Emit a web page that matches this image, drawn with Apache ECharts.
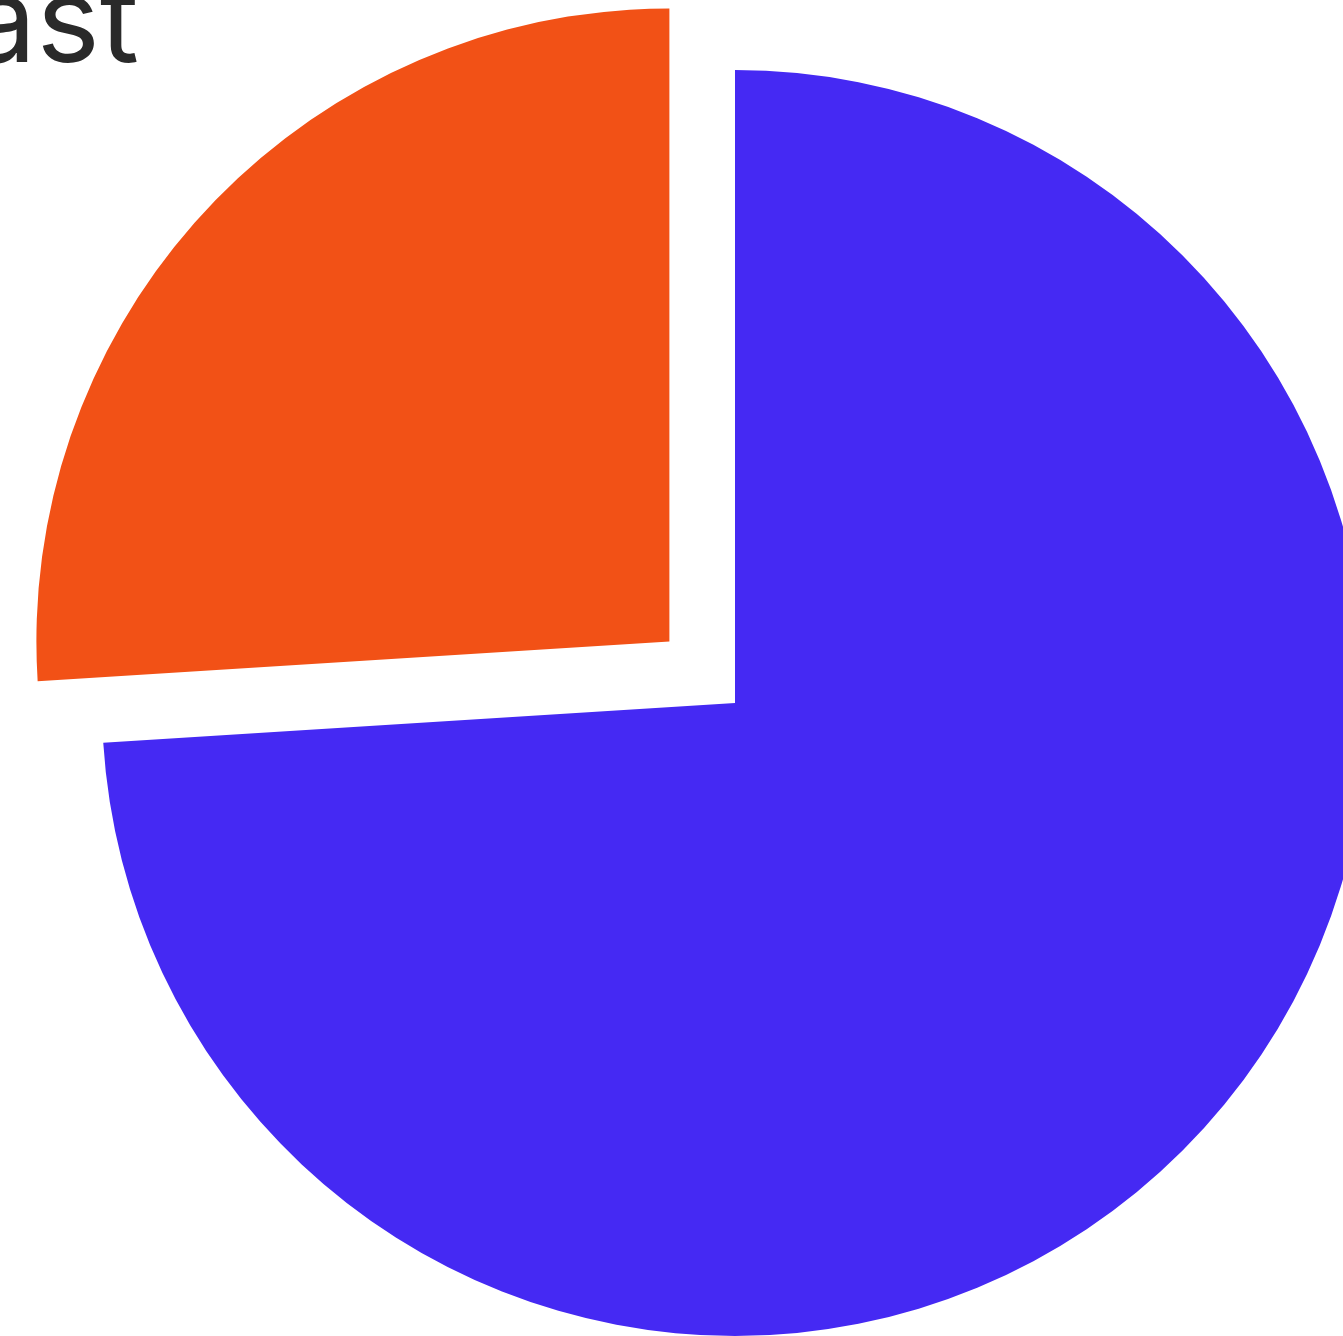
<!DOCTYPE html>
<html>
<head>
<meta charset="utf-8">
<script src="https://cdn.jsdelivr.net/npm/echarts@6/dist/echarts.min.js"></script>
<style>
  html, body { margin: 0; padding: 0; background: #ffffff; }
  #chart { width: 1343px; height: 1336px; }
</style>
</head>
<body>
<div id="chart"></div>
<script>
// Share of the total for each part of the pie
const categories = ['Actual', 'Forecast'];
const values = [74, 26];
const colors = ['#4529f3', '#f25116'];

const chart = echarts.init(document.getElementById('chart'), null, { renderer: 'canvas' });

chart.setOption({
  animation: false,
  series: [{
    type: 'pie',
    center: [735, 703],
    radius: 633,
    startAngle: 90,
    clockwise: true,
    selectedMode: 'single',
    selectedOffset: 90,
    avoidLabelOverlap: false,
    label: {
      show: true,
      position: 'outside',
      fontFamily: 'Inter',
      fontSize: 120,
      color: '#2a2a2a',
      overflow: 'none'
    },
    labelLine: { show: false, length: 30, length2: 30 },
    // lift the outside label up into the corner
    labelLayout: function () {
      return { dy: -162, dx: -12 };
    },
    data: categories.map((name, i) => ({
      name: name,
      value: values[i],
      selected: i === 1,
      itemStyle: { color: colors[i] },
      label: { show: i === 1 }
    }))
  }]
});
</script>
</body>
</html>
